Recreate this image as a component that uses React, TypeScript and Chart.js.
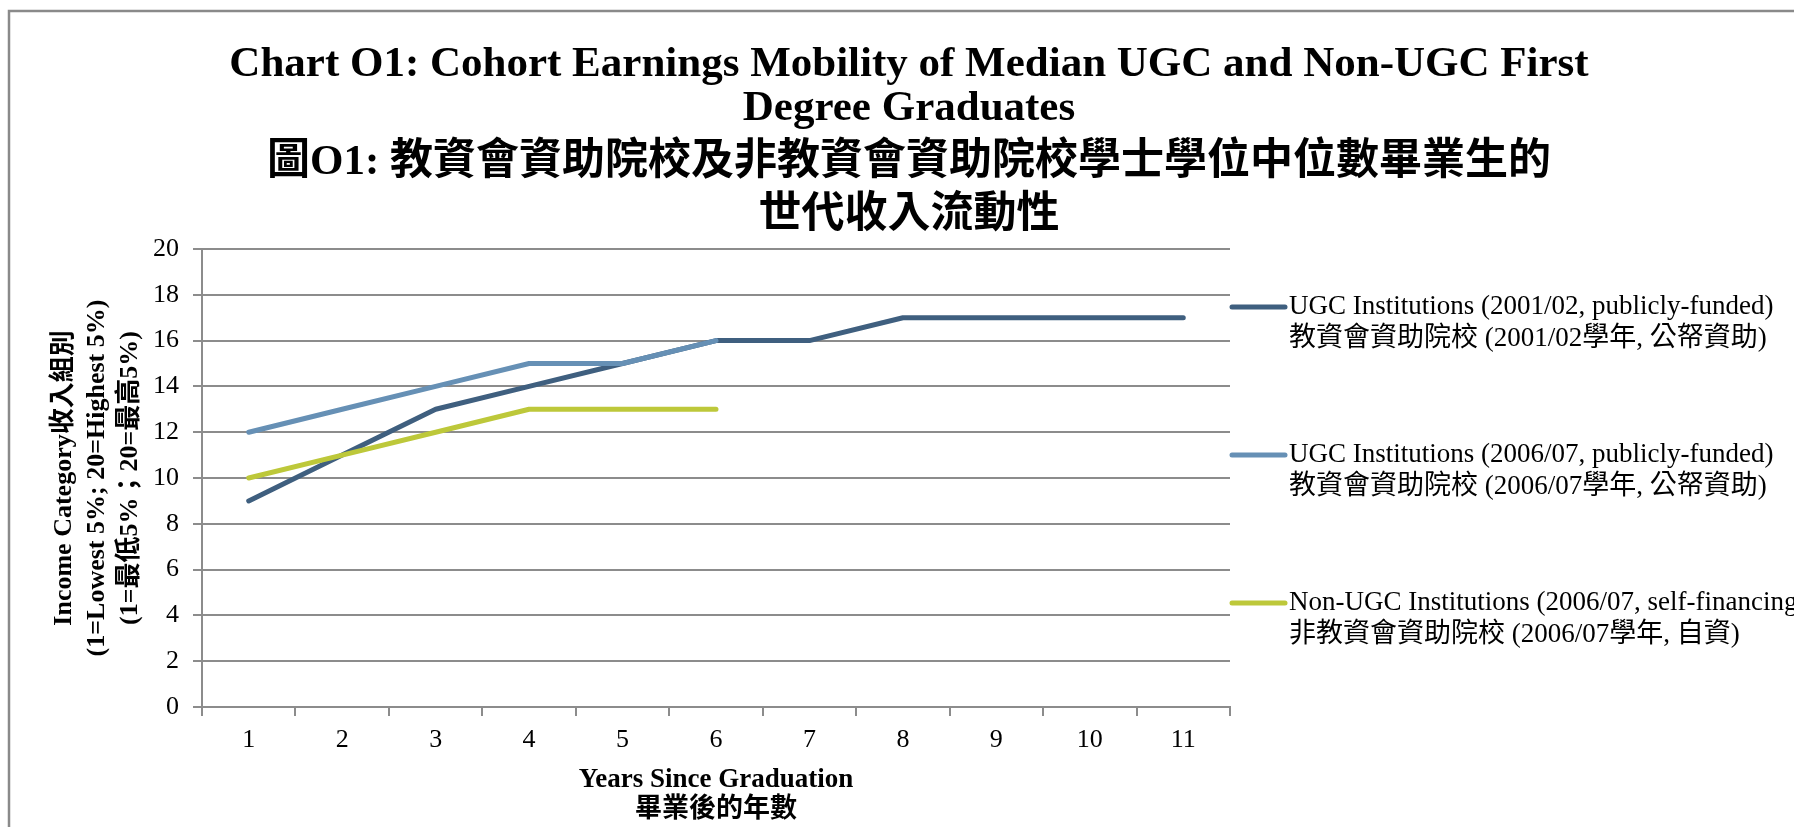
import React, { useEffect, useRef } from "react";
import { Chart, registerables } from "chart.js";

Chart.register(...registerables);

const years = ["1", "2", "3", "4", "5", "6", "7", "8", "9", "10", "11"];
const ugc0102 = [9, 11, 13, 14, 15, 16, 16, 17, 17, 17, 17];
const ugc0607 = [12, 13, 14, 15, 15, 16, null, null, null, null, null];
const nonUgc0607 = [10, 11, 12, 13, 13, 13, null, null, null, null, null];

const yMin = 0;
const yMax = 20;
const yStep = 2;

const titleLines = [
  "Chart O1: Cohort Earnings Mobility of Median UGC and Non-UGC First",
  "Degree Graduates",
  "圖O1: 教資會資助院校及非教資會資助院校學士學位中位數畢業生的",
  "世代收入流動性",
];
const yTitleLines = [
  "Income Category收入組別",
  "(1=Lowest 5%; 20=Highest 5%)",
  "(1=最低5%；20=最高5%)",
];
const xTitleLines = ["Years Since Graduation", "畢業後的年數"];

const seriesNames = [
  ["UGC Institutions (2001/02, publicly-funded)", "教資會資助院校 (2001/02學年, 公帑資助)"],
  ["UGC Institutions (2006/07, publicly-funded)", "教資會資助院校 (2006/07學年, 公帑資助)"],
  ["Non-UGC Institutions (2006/07, self-financing)", "非教資會資助院校 (2006/07學年, 自資)"],
];
const seriesColors = ["#3f5f7f", "#6690b5", "#bdc83a"];

const SERIF = '"Liberation Serif", "Times New Roman", "Noto Sans CJK TC", serif';
const GRID = "#8c8c8c";

const decorPlugin = {
  id: "decor",
  afterDraw(chart: any) {
    const { ctx, chartArea } = chart;
    const cx = (chartArea.left + chartArea.right) / 2;
    ctx.save();
    // outer frame
    ctx.strokeStyle = "#8a8a8a";
    ctx.lineWidth = 2.5;
    ctx.beginPath();
    ctx.moveTo(9, chart.height + 5);
    ctx.lineTo(9, 11);
    ctx.lineTo(chart.width + 5, 11);
    ctx.stroke();

    ctx.fillStyle = "#000";
    ctx.textAlign = "center";
    ctx.textBaseline = "middle";
    // title
    const titleX = chart.width / 2 + 12;
    const titleOffsets = [-184, -140, -86, -33];
    ctx.font = `bold 43px ${SERIF}`;
    titleLines.forEach((t, i) => {
      ctx.fillText(t, titleX, chartArea.top + titleOffsets[i]);
    });

    // y title
    const cy = (chartArea.top + chartArea.bottom) / 2;
    const yTitleX = [64, 97, 130];
    ctx.font = `bold 26px ${SERIF}`;
    yTitleLines.forEach((t, i) => {
      ctx.save();
      ctx.translate(chartArea.left - 202 + yTitleX[i], cy);
      ctx.rotate(-Math.PI / 2);
      ctx.fillText(t, 0, 0);
      ctx.restore();
    });

    // x title
    ctx.font = `bold 27px ${SERIF}`;
    const xTitleOffsets = [73, 103];
    xTitleLines.forEach((t, i) => {
      ctx.fillText(t, cx, chartArea.bottom + xTitleOffsets[i]);
    });

    // legend
    const legendX = chartArea.right;
    const legendTop = chartArea.top + 58;
    const legendGap = 148;
    ctx.textAlign = "left";
    ctx.font = `27px ${SERIF}`;
    chart.data.datasets.forEach((ds: any, i: number) => {
      const y = legendTop + i * legendGap;
      ctx.strokeStyle = ds.borderColor;
      ctx.lineWidth = 5;
      ctx.lineCap = "round";
      ctx.beginPath();
      ctx.moveTo(legendX + 2, y);
      ctx.lineTo(legendX + 55, y);
      ctx.stroke();
      ctx.fillStyle = "#000";
      seriesNames[i].forEach((line, j) => {
        ctx.fillText(line, legendX + 59, y + j * 32);
      });
    });
    ctx.restore();
  },
};

export default function App() {
  const canvasRef = useRef<HTMLCanvasElement | null>(null);

  useEffect(() => {
    document.body.style.margin = "0";
    document.body.style.overflow = "hidden";
    const canvas = canvasRef.current;
    if (!canvas) return;
    const chart = new Chart(canvas, {
      type: "line",
      data: {
        labels: years,
        datasets: [
          { label: seriesNames[0].join(" "), data: ugc0102, borderColor: seriesColors[0], order: 3 },
          { label: seriesNames[1].join(" "), data: ugc0607, borderColor: seriesColors[1], order: 1 },
          { label: seriesNames[2].join(" "), data: nonUgc0607, borderColor: seriesColors[2], order: 2 },
        ].map((d) => ({
          ...d,
          backgroundColor: d.borderColor,
          borderWidth: 5,
          borderCapStyle: "round" as const,
          borderJoinStyle: "round" as const,
          pointRadius: 0,
          pointHoverRadius: 0,
          tension: 0,
          spanGaps: false,
        })),
      },
      options: {
        animation: false,
        responsive: false,
        maintainAspectRatio: false,
        events: [],
        layout: { padding: { top: 249, left: 142, right: 564, bottom: 0 } },
        plugins: {
          legend: { display: false },
          title: { display: false },
          tooltip: { enabled: false },
        },
        scales: {
          x: {
            type: "category",
            offset: true,
            afterFit: (s: any) => {
              s.height = 120;
            },
            grid: {
              offset: true,
              drawOnChartArea: false,
              drawTicks: true,
              tickLength: 9,
              color: GRID,
              lineWidth: 2,
            },
            border: { display: true, color: GRID, width: 2 },
            ticks: {
              color: "#000",
              font: { family: SERIF, size: 26 },
              padding: 9,
              maxRotation: 0,
              autoSkip: false,
            },
          },
          y: {
            min: yMin,
            max: yMax,
            afterFit: (s: any) => {
              s.width = 60;
            },
            grid: {
              color: GRID,
              lineWidth: 2,
              drawTicks: true,
              tickLength: 9,
            },
            border: { display: true, color: GRID, width: 2 },
            ticks: {
              stepSize: yStep,
              color: "#000",
              font: { family: SERIF, size: 26 },
              padding: 14,
            },
          },
        },
      },
      plugins: [decorPlugin],
    });
    return () => chart.destroy();
  }, []);

  return (
    <div style={{ width: 1794, height: 827, position: "relative", background: "#fff" }}>
      <canvas ref={canvasRef} width={1794} height={827} style={{ display: "block", width: 1794, height: 827 }} />
    </div>
  );
}
